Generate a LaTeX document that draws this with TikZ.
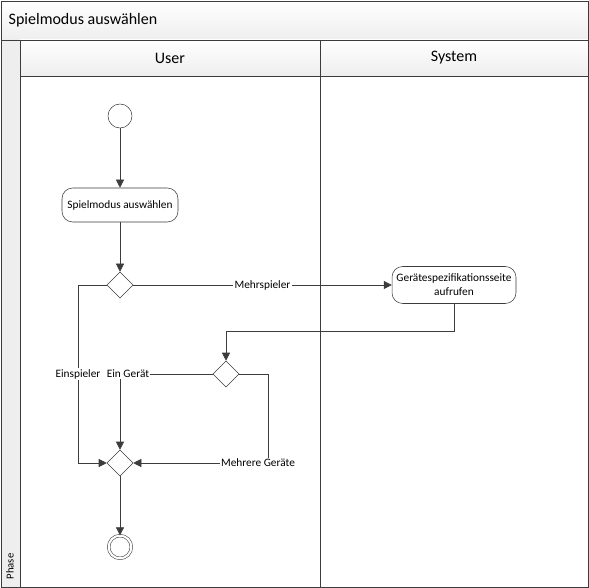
\documentclass[tikz,border=0pt]{standalone}
\usepackage{fontspec}
\setmainfont{Carlito}
\usetikzlibrary{arrows.meta,positioning,shapes.geometric}
\definecolor{lineg}{RGB}{60,60,60}
\definecolor{headg}{RGB}{238,238,238}

\begin{document}
\begin{tikzpicture}[x=0.75pt,y=-0.75pt,
    flow/.style={draw=lineg,-{Triangle[width=6pt,length=6pt]}},
    action/.style={draw=lineg,rounded corners=8pt,align=center,font=\fontsize{8.5}{10.5}\selectfont},
    decision/.style={draw=lineg,diamond,minimum width=19.5pt,minimum height=19.5pt,inner sep=0pt},
    guard/.style={fill=white,inner sep=1pt,font=\fontsize{8.5}{10.5}\selectfont}]
  \useasboundingbox (0,0) rectangle (589,588);
  % pool with title bar, lane headers and phase column
  \fill[top color=white,bottom color=headg] (1,1) rectangle (588,40);
  \fill[top color=white,bottom color=headg] (20,40) rectangle (588,76);
  \fill[headg] (1,40) rectangle (20,587);
  \draw[lineg] (1,1) rectangle (588,587);
  \draw[lineg] (1,40) -- (588,40);
  \draw[lineg] (20,40) -- (20,587);
  \draw[lineg] (20,76) -- (588,76);
  \draw[lineg] (320,40) -- (320,587);
  \node[anchor=west,font=\fontsize{12}{14}\selectfont] (title) at (4,20) {Spielmodus auswählen};
  \node[font=\fontsize{12}{14}\selectfont] (user) at (170,58) {User};
  \node[font=\fontsize{12}{14}\selectfont] (system) at (454,58) {System};
  \node[rotate=90,anchor=west,font=\fontsize{8}{10}\selectfont] (phase) at (10,584) {Phase};

  % activity nodes
  \node[draw=lineg,circle,minimum size=18pt] (start) at (120,116) {};
  \node[action,minimum width=87pt,minimum height=25.5pt] (act1) at (120,205) {Spielmodus auswählen};
  \node[decision] (dec1) at (120,285) {};
  \node[action,minimum width=91.5pt,minimum height=27.75pt] (act2) at (454,285) {Gerätespezifikationsseite\\aufrufen};
  \node[decision] (dec2) at (226,374) {};
  \node[decision] (merge) at (120,463) {};
  \node[draw=lineg,circle,double,double distance=1.6pt,minimum size=17pt] (final) at (120,547) {};

  \coordinate (bend) at (226,331);
  \coordinate (lft1) at (78,285);
  \coordinate (lft2) at (78,463);
  \coordinate (rgt1) at (268,374);
  \coordinate (rgt2) at (268,463);

  % connectors
  \draw[flow] (start) -- (act1);
  \draw[flow] (act1) -- (dec1);
  \draw[flow] (dec1) -- node[guard]{Mehrspieler} (act2);
  \draw[flow] (act2.south) |- (bend) -- (dec2);
  \draw[flow] (dec2.west) -| node[guard,pos=0.5,xshift=6pt]{Ein Gerät} (merge.north);
  \draw[flow] (dec1.west) -- (lft1) -- node[guard]{Einspieler} (lft2) -- (merge.west);
  \draw[flow] (dec2.east) -- (rgt1) -- (rgt2) node[guard,xshift=-7.5pt]{Mehrere Geräte} -- (merge.east);
  \draw[flow] (merge) -- (final);
\end{tikzpicture}
\end{document}
